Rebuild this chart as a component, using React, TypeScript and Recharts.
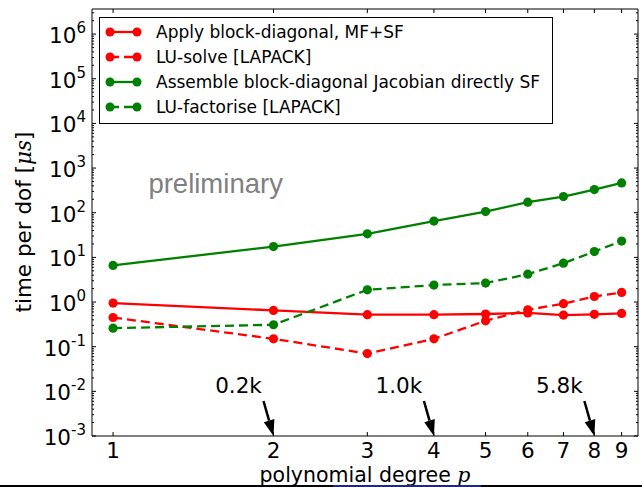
import { LineChart, Line, XAxis, YAxis, Legend, ReferenceDot } from "recharts";

// polynomial degree p
const degrees = [1, 2, 3, 4, 5, 6, 7, 8, 9];

// time per dof [µs]
const applyBlockDiag = [0.95, 0.65, 0.52, 0.52, 0.54, 0.57, 0.51, 0.53, 0.555];
const luSolve = [0.45, 0.15, 0.07, 0.15, 0.38, 0.67, 0.92, 1.33, 1.64];
const assembleJacobian = [6.6, 17.5, 33.7, 65, 106, 172, 230, 330, 466];
const luFactorise = [0.26, 0.31, 1.88, 2.4, 2.66, 4.2, 7.4, 13.5, 23.2];

// dof annotations on the x axis
const dofLabels = ["0.2k", "1.0k", "5.8k"];
const dofDegrees = [2, 4, 8];

const yExponents = [-3, -2, -1, 0, 1, 2, 3, 4, 5, 6];

const RED = "#ff0000";
const GREEN = "#008000";
const FONT = "DejaVu Sans";

const X_DOMAIN = [0.913, 9.66];
const Y_DOMAIN = [1e-3, 3.65e6];

const series = [
  { key: "apply", name: "Apply block-diagonal, MF+SF", color: RED, dashed: false, values: applyBlockDiag },
  { key: "lusolve", name: "LU-solve [LAPACK]", color: RED, dashed: true, values: luSolve },
  { key: "assemble", name: "Assemble block-diagonal Jacobian directly SF", color: GREEN, dashed: false, values: assembleJacobian },
  { key: "lufact", name: "LU-factorise [LAPACK]", color: GREEN, dashed: true, values: luFactorise },
];

const data = degrees.map((p, i) => {
  const row: any = { p };
  series.forEach((s) => (row[s.key] = s.values[i]));
  return row;
});

// major + minor log ticks
const yTicks: number[] = [];
yExponents.forEach((e) => {
  for (let m = 1; m <= 9; m++) {
    const v = m * Math.pow(10, e);
    if (v <= Y_DOMAIN[1]) yTicks.push(v);
  }
});

const isMajor = (v: number) => {
  const lg = Math.log10(v);
  return Math.abs(lg - Math.round(lg)) < 1e-6;
};

const LeftTick = (props: any) => {
  const { x, y, payload } = props;
  const v = payload.value;
  const major = isMajor(v);
  return (
    <g>
      <line x1={x} y1={y} x2={x + (major ? 4 : 2)} y2={y} stroke="#000" strokeWidth={1} />
      {major && (
        <text x={x - 6} y={y + 9} textAnchor="end" fontSize={21.5} fontFamily={FONT} fill="#000">
          <tspan>10</tspan>
          <tspan dy={-10} fontSize={15}>{Math.round(Math.log10(v))}</tspan>
        </text>
      )}
    </g>
  );
};

const RightTick = (props: any) => {
  const { x, y, payload } = props;
  const major = isMajor(payload.value);
  return <line x1={x} y1={y} x2={x - (major ? 4 : 2)} y2={y} stroke="#000" strokeWidth={1} />;
};

const BottomTick = (props: any) => {
  const { x, y, payload } = props;
  return (
    <g>
      <line x1={x} y1={y} x2={x} y2={y - 4} stroke="#000" strokeWidth={1} />
      <text x={x} y={y + 21.5} textAnchor="middle" fontSize={21.5} fontFamily={FONT} fill="#000">
        {payload.value}
      </text>
    </g>
  );
};

const TopTick = (props: any) => {
  const { x, y } = props;
  return <line x1={x} y1={y} x2={x} y2={y + 4} stroke="#000" strokeWidth={1} />;
};

const YTitle = () => (
  <text x={31} y={222} transform="rotate(-90, 31, 222)" textAnchor="middle" fontSize={21.5} fontFamily={FONT} fill="#000">
    time per dof [<tspan fontStyle="italic" fontFamily="DejaVu Serif">μs</tspan>]
  </text>
);

const XTitle = () => (
  <text x={365} y={482} textAnchor="middle" fontSize={20.5} fontFamily={FONT} fill="#000">
    polynomial degree <tspan fontStyle="italic" fontFamily="DejaVu Serif">p</tspan>
  </text>
);

const LegendBox = () => (
  <svg width={454} height={107} style={{ display: "block" }}>
    <rect x={0.5} y={0.5} width={453} height={106} fill="#fff" stroke="#000" strokeWidth={1} />
    {series.map((s, i) => {
      const cy = 15 + i * 25;
      return (
        <g key={s.key}>
          <line x1={11} y1={cy} x2={38} y2={cy} stroke={s.color} strokeWidth={2.3} strokeDasharray={s.dashed ? "9 5" : undefined} />
          <circle cx={11} cy={cy} r={4.5} fill={s.color} />
          <circle cx={38} cy={cy} r={4.5} fill={s.color} />
          <text x={57} y={cy + 6} fontSize={17} fontFamily={FONT} fill="#000">
            {s.name}
          </text>
        </g>
      );
    })}
  </svg>
);

// arrow pointing down-right onto the axis, label above its tail
const DofArrow = (label: string) => (props: any) => {
  const { cx, cy } = props;
  const tx = cx - 10;
  const ty = cy - 35;
  const len = Math.hypot(cx - tx, cy - ty);
  const ux = (cx - tx) / len;
  const uy = (cy - ty) / len;
  const bx = cx - 16 * ux;
  const by = cy - 16 * uy;
  const nx = -uy;
  const ny = ux;
  return (
    <g>
      <line x1={tx} y1={ty} x2={bx} y2={by} stroke="#000" strokeWidth={2.5} />
      <polygon points={`${cx},${cy} ${bx + 5.5 * nx},${by + 5.5 * ny} ${bx - 5.5 * nx},${by - 5.5 * ny}`} fill="#000" />
      <text x={cx - 35} y={cy - 43} textAnchor="middle" fontSize={21.5} fontFamily={FONT} fill="#000">
        {label}
      </text>
    </g>
  );
};

const Watermark = (props: any) => (
  <text x={props.cx} y={props.cy} fontSize={27.5} fontFamily="Liberation Sans" fill="#808080">
    preliminary
  </text>
);

export default function App() {
  return (
    <div style={{ position: "absolute", left: 0, top: 0, width: 642, height: 487, background: "#fff" }}>
      <LineChart width={642} height={487} data={data} margin={{ top: 8, right: 3, bottom: 0, left: 0 }}>
        <XAxis
          dataKey="p"
          type="number"
          scale="log"
          domain={X_DOMAIN}
          allowDataOverflow
          ticks={degrees}
          interval={0}
          height={51}
          tickSize={0}
          tickMargin={0}
          tickLine={false}
          tick={<BottomTick />}
          axisLine={{ stroke: "#000", strokeWidth: 1 }}
          label={<XTitle />}
        />
        <XAxis
          xAxisId="top"
          orientation="top"
          dataKey="p"
          type="number"
          scale="log"
          domain={X_DOMAIN}
          allowDataOverflow
          ticks={degrees}
          interval={0}
          height={1}
          tickSize={0}
          tickMargin={0}
          tickLine={false}
          tick={<TopTick />}
          axisLine={{ stroke: "#000", strokeWidth: 1 }}
        />
        <YAxis
          type="number"
          scale="log"
          domain={Y_DOMAIN}
          allowDataOverflow
          ticks={yTicks}
          interval={0}
          width={92}
          tickSize={0}
          tickMargin={0}
          tickLine={false}
          tick={<LeftTick />}
          axisLine={{ stroke: "#000", strokeWidth: 1 }}
          label={<YTitle />}
        />
        <YAxis
          yAxisId="right"
          orientation="right"
          type="number"
          scale="log"
          domain={Y_DOMAIN}
          allowDataOverflow
          ticks={yTicks}
          interval={0}
          width={1}
          tickSize={0}
          tickMargin={0}
          tickLine={false}
          tick={<RightTick />}
          axisLine={{ stroke: "#000", strokeWidth: 1 }}
        />
        {series.map((s) => (
          <Line
            key={s.key}
            dataKey={s.key}
            name={s.name}
            stroke={s.color}
            strokeWidth={2.3}
            strokeDasharray={s.dashed ? "9 5" : undefined}
            dot={{ r: 4.6, fill: s.color, stroke: "none", strokeWidth: 0 }}
            activeDot={false}
            isAnimationActive={false}
          />
        ))}
        <ReferenceDot x={1.165} y={280} ifOverflow="visible" shape={Watermark} />
        {dofDegrees.map((d, i) => (
          <ReferenceDot key={d} x={d} y={Y_DOMAIN[0]} ifOverflow="visible" shape={DofArrow(dofLabels[i])} />
        ))}
        <Legend
          layout="vertical"
          align="center"
          verticalAlign="middle"
          wrapperStyle={{ left: 99, top: 17, width: 454, height: 107 }}
          content={() => <LegendBox />}
        />
      </LineChart>
      <div style={{ position: "absolute", left: 0, top: 485, width: 642, height: 2, background: "#000" }} />
      <div style={{ position: "absolute", left: 333, top: 485, width: 148, height: 2, background: "#1f2a7a" }} />
    </div>
  );
}
